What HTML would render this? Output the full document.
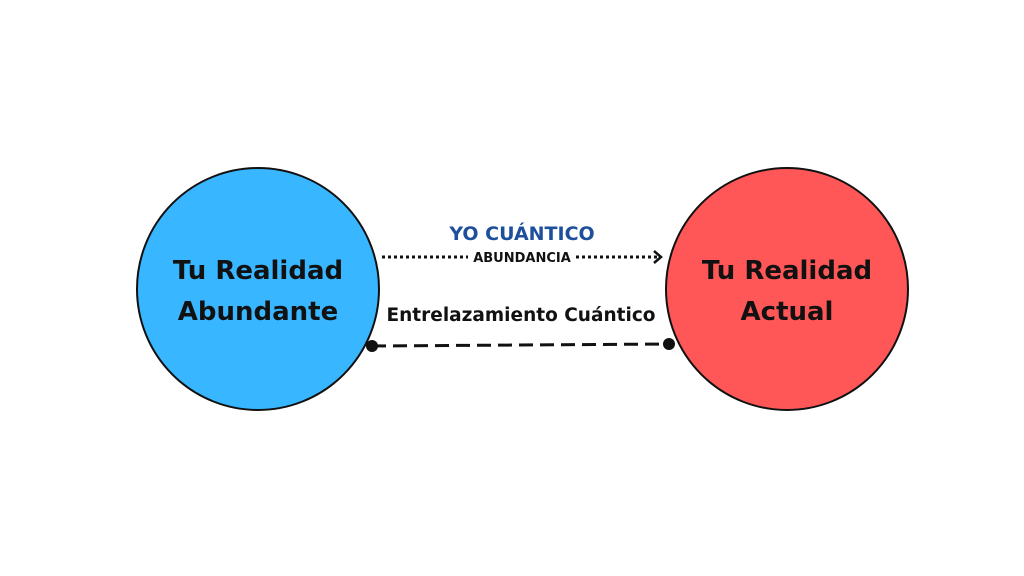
<!DOCTYPE html>
<html><head><meta charset="utf-8"><style>body{margin:0;background:#fff}svg{display:block}text{font-family:"DejaVu Sans","Liberation Sans",sans-serif;font-weight:bold}</style></head>
<body>
<svg width="1024" height="576" viewBox="0 0 1024 576">
<circle cx="258" cy="289" r="121" fill="#38b6ff" stroke="#111" stroke-width="2"/>
<circle cx="787" cy="289" r="121" fill="#ff5757" stroke="#111" stroke-width="2"/>
<text x="258" y="279" font-size="26" text-anchor="middle" fill="#111">Tu Realidad</text>
<text x="258" y="320" font-size="26" text-anchor="middle" fill="#111">Abundante</text>
<text x="787" y="279" font-size="26" text-anchor="middle" fill="#111">Tu Realidad</text>
<text x="787" y="320" font-size="26" text-anchor="middle" fill="#111">Actual</text>
<text x="522" y="240" font-size="19" text-anchor="middle" fill="#1d4f9c">YO CUÁNTICO</text>
<text x="522" y="262" font-size="13" text-anchor="middle" fill="#111">ABUNDANCIA</text>
<line x1="382" y1="257" x2="468" y2="257" stroke="#111" stroke-width="3" stroke-dasharray="3,3"/>
<line x1="576" y1="257" x2="660" y2="257" stroke="#111" stroke-width="3" stroke-dasharray="3,3"/>
<polyline points="654,251 661,257 654,263" fill="none" stroke="#111" stroke-width="2.5"/>
<text x="521" y="321" font-size="18.5" text-anchor="middle" fill="#111">Entrelazamiento Cuántico</text>
<line x1="372" y1="346" x2="669" y2="344" stroke="#111" stroke-width="3" stroke-dasharray="14,7"/>
<circle cx="372" cy="346" r="6" fill="#111"/>
<circle cx="669" cy="344" r="6" fill="#111"/>
</svg>
</body></html>
